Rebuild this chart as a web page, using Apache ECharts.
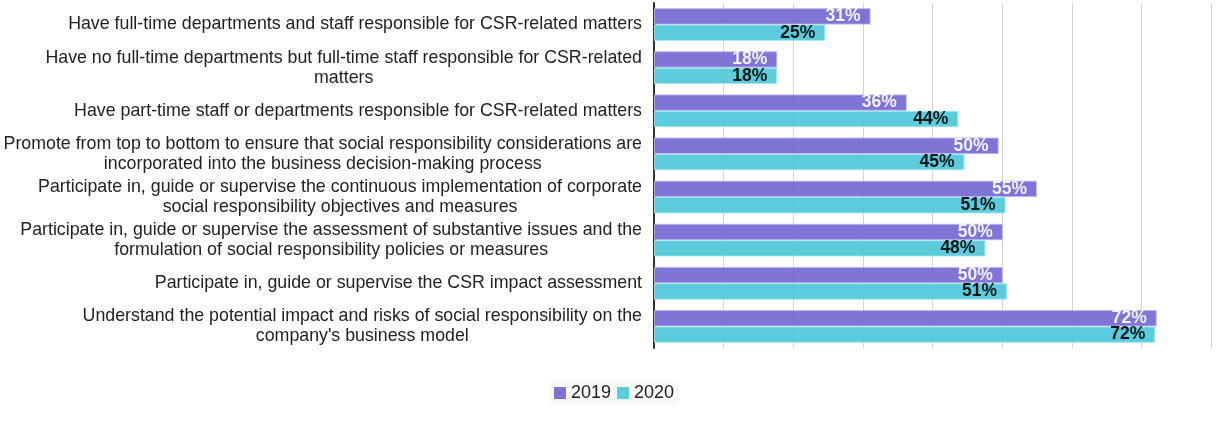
<html>

<head>
    <meta charset="utf-8">
    <script src="https://cdn.jsdelivr.net/npm/echarts@6/dist/echarts.min.js"></script>
    <style>
        html, body { margin: 0; padding: 0; background: #fff; }
        #chart { width: 1224px; height: 438px; }
    </style>
</head>

<body>
    <div id="chart"></div>
    <script>
        var categories = [
            "Have full-time departments and staff responsible for CSR-related matters",
            "Have no full-time departments but full-time staff responsible for CSR-related\nmatters",
            "Have part-time staff or departments responsible for CSR-related matters",
            "Promote from top to bottom to ensure that social responsibility considerations are\nincorporated into the business decision-making process",
            "Participate in, guide or supervise the continuous implementation of corporate\nsocial responsibility objectives and measures",
            "Participate in, guide or supervise the assessment of substantive issues and the\nformulation of social responsibility policies or measures",
            "Participate in, guide or supervise the CSR impact assessment",
            "Understand the potential impact and risks of social responsibility on the\ncompany's business model"
        ];
        var seriesNames = ['2019', '2020'];
        var values2019 = [31.1, 17.7, 36.3, 49.5, 55.0, 50.1, 50.1, 72.2];
        var values2020 = [24.6, 17.7, 43.7, 44.6, 50.5, 47.6, 50.7, 72.0];

        var font = "'Liberation Sans', Arial, sans-serif";
        var myChart = echarts.init(document.getElementById('chart'));

        // each line of a wrapped label is its own rich token so short lines sit centred
        function wrapLabel(value) {
            return value.split('\n').map(function (line) {
                return '{c|' + line + '}';
            }).join('\n');
        }

        function pct(p) {
            return Math.round(p.value) + '%';
        }

        var option = {
            animation: false,
            textStyle: { fontFamily: font },
            grid: { left: 654, right: 13, top: 3, bottom: 90 },
            legend: {
                data: seriesNames,
                top: 381,
                left: 550,
                icon: 'rect',
                itemWidth: 12,
                itemHeight: 12,
                itemGap: 6,
                padding: [3, 4],
                backgroundColor: '#f8f8f8',
                itemStyle: { borderWidth: 0 },
                textStyle: { fontSize: 18, color: '#222', fontFamily: font }
            },
            xAxis: {
                type: 'value',
                min: 0,
                max: 80,
                interval: 10,
                axisLabel: { show: false },
                axisLine: { show: false },
                axisTick: { show: false },
                splitLine: { lineStyle: { color: '#d4d4d4' } }
            },
            yAxis: {
                type: 'category',
                inverse: true,
                data: categories,
                axisLine: { lineStyle: { color: '#333', width: 2 } },
                axisTick: { show: false },
                axisLabel: {
                    margin: 12,
                    formatter: wrapLabel,
                    rich: {
                        c: {
                            align: 'center',
                            fontSize: 17.8,
                            lineHeight: 20,
                            color: '#222',
                            fontFamily: font
                        }
                    }
                }
            },
            series: [{
                    name: '2019',
                    type: 'bar',
                    data: values2019,
                    barGap: '0%',
                    barCategoryGap: '24%',
                    itemStyle: {
                        color: '#7166cf',
                        opacity: 0.9,
                        borderColor: '#b9b4ec',
                        borderWidth: 1
                    },
                    label: {
                        show: true,
                        position: 'insideRight',
                        distance: 10,
                        formatter: pct,
                        color: '#fff',
                        fontSize: 17.5,
                        fontWeight: 'bold',
                        fontFamily: font
                    }
                },
                {
                    name: '2020',
                    type: 'bar',
                    data: values2020,
                    barGap: '0%',
                    barCategoryGap: '24%',
                    itemStyle: {
                        color: '#4ac6d8',
                        opacity: 0.9,
                        borderColor: '#a6e6ef',
                        borderWidth: 1
                    },
                    label: {
                        show: true,
                        position: 'insideRight',
                        distance: 10,
                        formatter: pct,
                        color: '#000',
                        fontSize: 17.5,
                        fontWeight: 'bold',
                        fontFamily: font
                    }
                }
            ]
        };
        myChart.setOption(option);
    </script>
</body>

</html>
